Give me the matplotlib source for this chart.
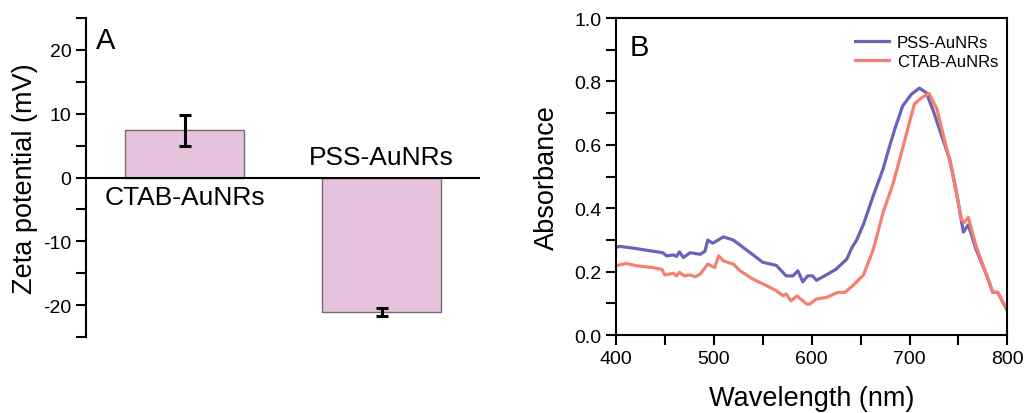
import matplotlib
matplotlib.use("Agg")
import matplotlib.pyplot as plt
from matplotlib.ticker import MultipleLocator, FormatStrFormatter

plt.rcParams['font.family'] = ['Liberation Sans', 'DejaVu Sans']
plt.rcParams['axes.unicode_minus'] = False

# ---- Panel A data ----
samples = ["CTAB-AuNRs", "PSS-AuNRs"]
zeta = [7.4, -21.1]
zeta_err = [2.4, 0.6]

# ---- Panel B data ----
wl_pss = [400, 404, 421, 431, 448, 452, 459, 462, 465, 469, 476, 486, 491, 494, 499, 510, 520, 533,
          550, 564, 574, 581, 586, 591, 596, 601, 605, 615, 625, 636, 641, 646, 653, 663, 673, 680,
          685, 693, 702, 710, 717, 724, 731, 741, 748, 755, 760, 768, 779, 785, 790, 800]
abs_pss = [0.277, 0.28, 0.273, 0.268, 0.26, 0.25, 0.253, 0.248, 0.263, 0.245, 0.26, 0.255, 0.264, 0.30,
           0.29, 0.31, 0.30, 0.27, 0.23, 0.22, 0.187, 0.187, 0.203, 0.168, 0.187, 0.187, 0.173, 0.19,
           0.208, 0.24, 0.275, 0.30, 0.35, 0.44, 0.524, 0.60, 0.65, 0.723, 0.76, 0.779, 0.765, 0.71,
           0.645, 0.555, 0.45, 0.325, 0.348, 0.27, 0.187, 0.135, 0.135, 0.077]
wl_ctab = [400, 411, 421, 438, 447, 450, 459, 462, 465, 470, 476, 481, 486, 494, 501, 505, 510, 520,
           527, 540, 554, 564, 571, 574, 579, 585, 595, 598, 605, 615, 627, 634, 642, 653, 663, 673,
           683, 690, 699, 705, 712, 720, 728, 738, 743, 753, 756, 760, 768, 779, 785, 790, 800]
abs_ctab = [0.219, 0.226, 0.219, 0.213, 0.208, 0.19, 0.195, 0.187, 0.198, 0.187, 0.19, 0.184, 0.192,
            0.224, 0.213, 0.25, 0.234, 0.224, 0.203, 0.177, 0.156, 0.14, 0.124, 0.13, 0.108, 0.124,
            0.098, 0.098, 0.114, 0.119, 0.135, 0.135, 0.156, 0.19, 0.27, 0.387, 0.476, 0.555, 0.66,
            0.729, 0.748, 0.762, 0.713, 0.587, 0.524, 0.366, 0.355, 0.372, 0.28, 0.187, 0.135, 0.135,
            0.077]

fig = plt.figure(figsize=(10.28, 4.14), dpi=100)

# ---------- Panel A ----------
axA = fig.add_axes([0.0837, 0.1836, 0.467 - 0.0837, 0.954 - 0.1836])
axA.bar(range(len(samples)), zeta, width=0.6, color='#e6c2dc', edgecolor='#707070', linewidth=1.0, zorder=2)
axA.errorbar(range(len(samples)), zeta, yerr=zeta_err, fmt='none', ecolor='black',
             elinewidth=2.2, capsize=4, capthick=2.2, zorder=3)
axA.axhline(0, color='black', lw=1.5, zorder=4)
axA.set_xlim(-0.5, 1.5)
axA.set_ylim(-25, 25)
for s in ['top', 'right', 'bottom']:
    axA.spines[s].set_visible(False)
axA.spines['left'].set_linewidth(1.5)
axA.set_xticks([])
axA.yaxis.set_major_locator(MultipleLocator(10))
axA.yaxis.set_minor_locator(MultipleLocator(5))
axA.tick_params(axis='y', which='major', direction='out', length=7, width=1.5, labelsize=14)
axA.tick_params(axis='y', which='minor', direction='out', length=7, width=1.5)
axA.set_ylabel("Zeta potential (mV)", fontsize=19.5, labelpad=3.5)
axA.text(0.0, -1.2, samples[0], ha='center', va='top', fontsize=19)
axA.text(1.0, 1.3, samples[1], ha='center', va='bottom', fontsize=19)
axA.text(0.025, 0.93, "A", transform=axA.transAxes, fontsize=21, ha='left', va='center')

# ---------- Panel B ----------
axB = fig.add_axes([0.599, 0.188, 0.980 - 0.599, 0.954 - 0.188])
axB.plot(wl_pss, abs_pss, color='#6a64b8', lw=2.3, label='PSS-AuNRs')
axB.plot(wl_ctab, abs_ctab, color='#f4806f', lw=2.3, label='CTAB-AuNRs')
axB.set_xlim(400, 800)
axB.set_ylim(0, 1.0)
axB.xaxis.set_major_locator(MultipleLocator(100))
axB.xaxis.set_minor_locator(MultipleLocator(50))
axB.yaxis.set_major_locator(MultipleLocator(0.2))
axB.yaxis.set_minor_locator(MultipleLocator(0.1))
axB.yaxis.set_major_formatter(FormatStrFormatter('%.1f'))
for s in axB.spines.values():
    s.set_linewidth(1.5)
axB.tick_params(which='both', direction='out', length=7, width=1.5, labelsize=14, top=False, right=False)
axB.set_xlabel("Wavelength (nm)", fontsize=19.5, labelpad=13)
axB.set_ylabel("Absorbance", fontsize=19.5, labelpad=10)
axB.text(0.035, 0.91, "B", transform=axB.transAxes, fontsize=21, ha='left', va='center')
axB.legend(loc='upper right', frameon=False, fontsize=12, handlelength=2.0, handletextpad=0.5,
           labelspacing=0.25, bbox_to_anchor=(1.015, 0.995))

fig.savefig("out.png", dpi=100)
